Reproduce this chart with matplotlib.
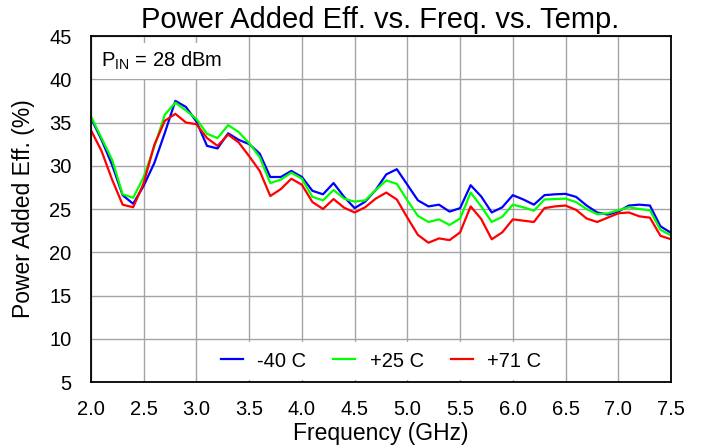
import numpy as np
import matplotlib
matplotlib.use("Agg")
import matplotlib.pyplot as plt
from matplotlib.ticker import FormatStrFormatter

plt.rcParams["font.family"] = ["Liberation Sans", "DejaVu Sans"]

# ── data ───────────────────────────────────────────────────────────────────────
freq_ghz = np.round(np.arange(2.0, 7.51, 0.1), 1)

pae_m40 = [35.5, 33.0, 30.1, 26.6, 25.6, 27.7, 30.3, 33.8, 37.5, 36.8,
           35.1, 32.3, 32.0, 33.75, 33.0, 32.5, 31.4, 28.7, 28.7, 29.4,
           28.7, 27.1, 26.7, 28.0, 26.4, 25.1, 25.85, 27.2, 29.0, 29.6,
           27.8, 26.0, 25.3, 25.5, 24.7, 25.1, 27.75, 26.45, 24.6, 25.2,
           26.6, 26.1, 25.5, 26.6, 26.7, 26.75, 26.4, 25.4, 24.6, 24.35,
           24.7, 25.4, 25.5, 25.4, 23.0, 22.25]

pae_p25 = [35.7, 33.2, 30.7, 26.7, 26.3, 28.7, 32.2, 35.9, 37.3, 36.4,
           35.4, 33.7, 33.2, 34.7, 33.9, 32.6, 31.0, 28.0, 28.4, 29.2,
           28.5, 26.4, 26.0, 27.2, 26.2, 25.85, 26.0, 27.2, 28.3, 27.9,
           26.0, 24.2, 23.5, 23.8, 23.15, 23.9, 26.9, 25.3, 23.5, 24.1,
           25.5, 25.2, 24.8, 26.1, 26.15, 26.2, 25.8, 25.0, 24.4, 24.5,
           24.85, 25.2, 25.0, 24.85, 22.6, 21.95]

pae_p71 = [34.1, 31.7, 28.4, 25.5, 25.2, 28.0, 32.4, 35.2, 36.0, 35.0,
           34.8, 33.2, 32.3, 33.6, 32.7, 31.1, 29.4, 26.5, 27.3, 28.5,
           27.8, 25.8, 25.0, 26.15, 25.15, 24.6, 25.2, 26.2, 26.9, 26.1,
           24.0, 22.0, 21.1, 21.6, 21.4, 22.3, 25.3, 23.85, 21.5, 22.3,
           23.8, 23.65, 23.5, 25.1, 25.3, 25.4, 24.9, 23.9, 23.5, 24.0,
           24.5, 24.6, 24.15, 24.0, 21.9, 21.5]

labels = ["-40 C", "+25 C", "+71 C"]
colors = ["#0000ff", "#00ff00", "#ff0000"]

# ── plot ───────────────────────────────────────────────────────────────────────
fig = plt.figure(figsize=(7.02, 4.48), dpi=100)
ax = fig.add_axes([91 / 702, 1 - 382 / 448, 580 / 702, 346 / 448])

for ys, lab, c in zip([pae_m40, pae_p25, pae_p71], labels, colors):
    ax.plot(freq_ghz, ys, color=c, lw=1.6, label=lab)

ax.set_xlim(2.0, 7.5)
ax.set_ylim(5, 45)
ax.set_xticks(np.arange(2.0, 7.51, 0.5))
ax.set_yticks(np.arange(5, 46, 5))
ax.xaxis.set_major_formatter(FormatStrFormatter("%.1f"))
ax.grid(color="#a4a4a4", lw=1.0)
ax.tick_params(length=0, labelsize=14.5)
ax.tick_params(axis="x", pad=13)
ax.tick_params(axis="y", pad=14)
for s in ax.spines.values():
    s.set_linewidth(1.3)
    s.set_zorder(5)

ax.set_xlabel("Frequency (GHz)", fontsize=16.5, labelpad=2)
ax.set_ylabel("Power Added Eff. (%)", fontsize=16.5, labelpad=10)
fig.text(380 / 702, 1 - 28 / 448, "Power Added Eff. vs. Freq. vs. Temp.",
         ha="center", va="baseline", fontsize=21)

ax.text(0.018, 0.96, r"P$_{\mathregular{IN}}$ = 28 dBm", transform=ax.transAxes,
        ha="left", va="top", fontsize=14.5,
        bbox=dict(facecolor="white", edgecolor="none", pad=5))

leg = ax.legend(loc="lower center", ncol=3, fontsize=14.5, frameon=True,
                handlelength=1.1, handletextpad=0.7, columnspacing=1.35,
                borderaxespad=0.22, borderpad=0.35)
leg.get_frame().set_edgecolor("none")
leg.get_frame().set_facecolor("white")
leg.get_frame().set_alpha(1)
leg.get_frame().set_boxstyle("square", pad=0.1)

fig.savefig("out.png", dpi=100)
